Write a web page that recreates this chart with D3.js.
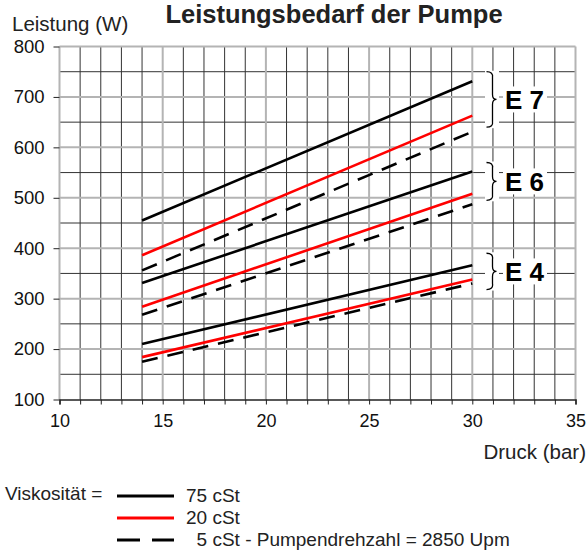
<!DOCTYPE html>
<html><head><meta charset="utf-8">
<script src="https://cdn.jsdelivr.net/npm/d3@7"></script>
<style>body{margin:0;background:#fff}svg{display:block;font-family:"Liberation Sans",Arial,sans-serif}</style>
</head><body><svg id="c" width="588" height="550"></svg>
<script>
const pressure = [14, 30];
const e7_75 = [455, 731];
const e7_20 = [386, 663];
const e7_5  = [356, 631];
const e6_75 = [331, 552];
const e6_20 = [284, 508];
const e6_5  = [268, 487];
const e4_75 = [210, 366];
const e4_20 = [184, 338];
const e4_5  = [175, 330];
const xTicks = [10, 15, 20, 25, 30, 35];
const yTicks = [100, 200, 300, 400, 500, 600, 700, 800];
const groups = ["E 7", "E 6", "E 4"];
const groupRanges = [[750, 640], [570, 495], [390, 318]];
const legendLabels = ["75 cSt", "20 cSt", "  5 cSt - Pumpendrehzahl = 2850 Upm"];

const series = [
  {v: e7_75, c: "#000", d: null}, {v: e7_20, c: "#ff0000", d: null}, {v: e7_5, c: "#000", d: "16,10"},
  {v: e6_75, c: "#000", d: null}, {v: e6_20, c: "#ff0000", d: null}, {v: e6_5, c: "#000", d: "16,10"},
  {v: e4_75, c: "#000", d: null}, {v: e4_20, c: "#ff0000", d: null}, {v: e4_5, c: "#000", d: "16,10"}
];

const svg = d3.select("#c");
const x = d3.scaleLinear().domain([10, 35]).range([59.5, 575.5]);
const y = d3.scaleLinear().domain([100, 800]).range([399.5, 46.5]);

// minor grid
const minorX = d3.range(11, 35).filter(d => d % 5 !== 0);
const minorY = d3.range(150, 800, 100);
svg.append("g").selectAll("line").data(minorX).join("line")
  .attr("x1", d => x(d)).attr("x2", d => x(d)).attr("y1", y(100)).attr("y2", y(800))
  .attr("stroke", "#333").attr("stroke-width", 1);
svg.append("g").selectAll("line").data(minorY).join("line")
  .attr("x1", x(10)).attr("x2", x(35)).attr("y1", d => y(d)).attr("y2", d => y(d))
  .attr("stroke", "#333").attr("stroke-width", 1);
// major grid
svg.append("g").selectAll("line").data(xTicks).join("line")
  .attr("x1", d => x(d)).attr("x2", d => x(d)).attr("y1", y(100)).attr("y2", y(800))
  .attr("stroke", "#b4b4b4").attr("stroke-width", 2);
svg.append("g").selectAll("line").data(yTicks.filter(d => d > 100)).join("line")
  .attr("x1", x(10)).attr("x2", x(35)).attr("y1", d => y(d)).attr("y2", d => y(d))
  .attr("stroke", "#b4b4b4").attr("stroke-width", 2);

// axes
const xAxis = d3.axisBottom(x).tickValues(d3.range(10, 36)).tickSize(5)
  .tickFormat(d => xTicks.includes(d) ? d : "");
const gx = svg.append("g").attr("transform", `translate(0,${y(100)})`).call(xAxis);
gx.select(".domain").attr("stroke", "#222").attr("stroke-width", 1.5);
gx.selectAll(".tick line").attr("stroke", "#222");
gx.selectAll("text").attr("font-size", 18).attr("fill", "#111").attr("dy", "1.1em")
  .attr("font-family", "Liberation Sans, Arial, sans-serif");

const yAxis = d3.axisLeft(y).tickValues(yTicks).tickSize(6).tickPadding(9);
const gy = svg.append("g").attr("transform", `translate(${x(10)},0)`).call(yAxis);
gy.select(".domain").remove();
gy.selectAll(".tick line").attr("stroke", "#222");
gy.selectAll("text").attr("font-size", 18.5).attr("fill", "#111")
  .attr("font-family", "Liberation Sans, Arial, sans-serif");

// lines
const line = d3.line().x((d, i) => x(pressure[i])).y(d => y(d));
svg.append("g").selectAll("path").data(series).join("path")
  .attr("d", d => line(d.v)).attr("fill", "none").attr("stroke", d => d.c)
  .attr("stroke-width", 2.6).attr("stroke-dasharray", d => d.d);

// braces & group labels
function bracePath(xp, y0, y1) {
  const ym = (y0 + y1) / 2, w = 7;
  return `M${xp-w/2},${y0} Q${xp+w/2},${y0} ${xp+w/2-1},${y0+6} L${xp+w/2-1},${ym-5} Q${xp+w/2-1},${ym} ${xp+w/2+3},${ym}` +
         ` Q${xp+w/2-1},${ym} ${xp+w/2-1},${ym+5} L${xp+w/2-1},${y1-6} Q${xp+w/2},${y1} ${xp-w/2},${y1}`;
}
const gb = svg.append("g");
groups.forEach((g, i) => {
  const [a, b] = groupRanges[i];
  const y0 = y(a), y1 = y(b), ym = (y0 + y1) / 2;
  gb.append("rect").attr("x", 485).attr("y", y0 - 1).attr("width", 14).attr("height", y1 - y0 + 2).attr("fill", "#fff");
  gb.append("rect").attr("x", 503).attr("y", ym - 13).attr("width", 44).attr("height", 26).attr("fill", "#fff");
  gb.append("path").attr("d", bracePath(490, y0, y1)).attr("fill", "none").attr("stroke", "#000").attr("stroke-width", 1.3);
  gb.append("text").attr("x", 505).attr("y", ym + 10).attr("font-size", 26).attr("font-weight", "bold")
    .attr("fill", "#000").text(g);
});

// titles
svg.append("text").attr("x", 334).attr("y", 23).attr("text-anchor", "middle")
  .attr("font-size", 25.5).attr("font-weight", "bold").attr("fill", "#222").text("Leistungsbedarf der Pumpe");
svg.append("text").attr("x", 12).attr("y", 31).attr("font-size", 20.5).attr("fill", "#222").text("Leistung (W)");
svg.append("text").attr("x", 586).attr("y", 459).attr("text-anchor", "end")
  .attr("font-size", 20.5).attr("fill", "#222").text("Druck (bar)");

// legend
svg.append("text").attr("x", 5).attr("y", 500).attr("font-size", 19).attr("fill", "#222").text("Viskosität =");
const legY = [496, 518, 540];
const legStyle = [series[0], series[1], series[2]];
legStyle.forEach((s, i) => {
  svg.append("line").attr("x1", 117).attr("x2", 174).attr("y1", legY[i]).attr("y2", legY[i])
    .attr("stroke", s.c).attr("stroke-width", 3).attr("stroke-dasharray", s.d ? "23,12" : null);
  svg.append("text").attr("x", 186).attr("y", legY[i] + 6).attr("font-size", 19).attr("fill", "#222")
    .attr("xml:space", "preserve").style("white-space", "pre").text(legendLabels[i]);
});
</script></body></html>
